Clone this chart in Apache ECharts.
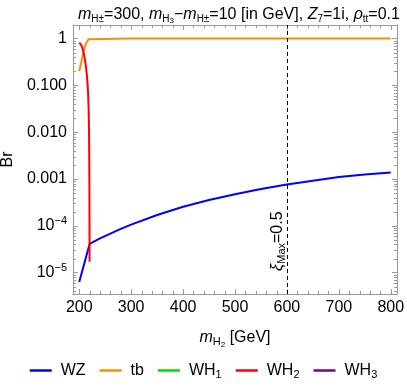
<!DOCTYPE html>
<html><head><meta charset="utf-8">
<script src="https://cdn.jsdelivr.net/npm/echarts@6/dist/echarts.min.js"></script>
<style>html,body{margin:0;padding:0;background:#fff}#c{width:407px;height:388px}</style>
</head><body><div id="c"></div>
<script>
const FONT = "'Liberation Sans', Arial, sans-serif";
const FRAME = '#999999';

// axis ranges and tick labels
const xMin = 188, xMax = 812;
const yMin = 3.5e-6, yMax = 1.94;
const xTickLabels = ['200', '300', '400', '500', '600', '700', '800'];
const yTickLabels = ['1', '0.100', '0.010', '0.001', '10^−4', '10^−5'];

// series data (m_H2 in GeV, branching ratio)
const wzMass = [200, 220, 240, 260, 280, 300, 350, 400, 450, 500, 550, 600, 650, 700, 750, 800];
const wzBr   = [6.3e-6, 4.1e-5, 5.4e-5, 6.8e-5, 8.6e-5, 1.06e-4, 1.7e-4, 2.55e-4, 3.55e-4, 4.7e-4, 6.1e-4, 7.6e-4, 9.2e-4, 1.1e-3, 1.25e-3, 1.38e-3];
const tbMass = [200, 202, 204, 206, 208, 210, 212, 214, 216, 218, 219, 220, 300, 400, 500, 600, 700, 800];
const tbBr   = [0.2, 0.25, 0.31, 0.4, 0.5, 0.61, 0.72, 0.82, 0.9, 0.96, 0.985, 0.998, 1.0, 1.0, 1.0, 1.0, 1.0, 1.0];
const wh1Mass = [];
const wh1Br   = [];
const wh2Mass = [200, 202, 204, 206, 208, 210, 212, 214, 216, 217, 218, 218.8, 219.3, 219.6, 219.8, 219.9];
const wh2Br   = [0.82, 0.78, 0.72, 0.63, 0.52, 0.41, 0.3, 0.2, 0.11, 0.07, 0.035, 0.012, 0.003, 6e-4, 1e-4, 1.7e-5];
const wh3Mass = [];
const wh3Br   = [];

const xiLineMass = 600;
const xiLabelBr = 4.7e-5;

const pairs = (xs, ys) => xs.map((x, i) => [x, ys[i]]);

// minor tick positions
const yMinor = [];
for (let k = -6; k <= 0; k++) for (let m = 2; m <= 9; m++) {
  const v = m * Math.pow(10, k);
  if (v > yMin && v < yMax) yMinor.push(v);
}
const xMinor = [];
for (let v = 200; v <= 800; v += 20) if (v % 100 !== 0) xMinor.push(v);
const minorData = yMinor.map(v => [xMin, v, 0]).concat(xMinor.map(v => [v, yMin, 1]));

function minorTick(params, api) {
  const cs = params.coordSys;
  const L = 3;
  const style = { stroke: FRAME, lineWidth: 1 };
  if (api.value(2) === 0) {
    const p = api.coord([xMin, api.value(1)]);
    const y = Math.round(p[1]) + 0.5;
    return { type: 'group', children: [
      { type: 'line', shape: { x1: cs.x, y1: y, x2: cs.x + L, y2: y }, style },
      { type: 'line', shape: { x1: cs.x + cs.width - L, y1: y, x2: cs.x + cs.width, y2: y }, style }
    ]};
  } else {
    const p = api.coord([api.value(0), yMin]);
    const x = Math.round(p[0]) + 0.5;
    return { type: 'group', children: [
      { type: 'line', shape: { x1: x, y1: cs.y + cs.height, x2: x, y2: cs.y + cs.height - L }, style },
      { type: 'line', shape: { x1: x, y1: cs.y, x2: x, y2: cs.y + L }, style }
    ]};
  }
}

function xiLabel(params, api) {
  const p = api.coord([api.value(0), api.value(1)]);
  return {
    type: 'text', x: p[0] - 9, y: p[1], rotation: Math.PI / 2,
    style: {
      text: '{g|ξ}{s|Max}{n|=0.5}',
      align: 'center', verticalAlign: 'middle',
      rich: {
        g: { fontFamily: FONT, fontSize: 16, fontStyle: 'italic', fill: '#000' },
        s: { fontFamily: FONT, fontSize: 11, fill: '#000', padding: [8, 0, 0, 0], lineHeight: 11 },
        n: { fontFamily: FONT, fontSize: 16, fill: '#000' }
      }
    }
  };
}

function yLabel(v) {
  const e = Math.round(Math.log10(v));
  const s = yTickLabels[-e];
  if (s === undefined) return '';
  if (s.indexOf('^') >= 0) {
    const parts = s.split('^');
    return '{b|' + parts[0] + '}{sup|' + parts[1] + '}';
  }
  return '{b|' + s + '}';
}

const baseRich = {
  b: { fontFamily: FONT, fontSize: 16, color: '#000' },
  sup: { fontFamily: FONT, fontSize: 11, color: '#000', padding: [0, 0, 10, 0], lineHeight: 11 }
};

const axisCommon = {
  axisLine: { show: true, lineStyle: { color: FRAME, width: 1 } },
  axisTick: { show: true, inside: true, length: 5, lineStyle: { color: FRAME } },
  splitLine: { show: false }
};

const lineSeries = (name, color, data) => ({
  name, type: 'line', data, showSymbol: false, symbol: 'none',
  itemStyle: { color }, lineStyle: { color, width: 2 },
  xAxisIndex: 0, yAxisIndex: 0, z: 3, animation: false
});

const chart = echarts.init(document.getElementById('c'), null, { renderer: 'canvas' });
const wz = lineSeries('WZ', '#0000ff', pairs(wzMass, wzBr));
wz.markLine = {
  silent: true, symbol: 'none', animation: false,
  label: { show: false },
  lineStyle: { color: '#000', type: [4, 3], width: 1 },
  data: [{ xAxis: xiLineMass }]
};

chart.setOption({
  animation: false,
  title: {
    text: '{i|m}{s|H±}{n|=300, }{i|m}{s|H}{ss|3}{n|−}{i|m}{s|H±}{n|=10 [in GeV], }{i|Z}{s|7}{n|=1i, }{i|ρ}{s|tt}{n|=0.1}',
    left: 73, top: 2,
    textStyle: {
      fontWeight: 'normal', fontFamily: FONT, fontSize: 16,
      rich: {
        i: { fontFamily: FONT, fontSize: 16, fontStyle: 'italic', fontWeight: 'normal', color: '#000' },
        n: { fontFamily: FONT, fontSize: 16, fontWeight: 'normal', color: '#000' },
        s: { fontFamily: FONT, fontSize: 10, fontWeight: 'normal', color: '#000', padding: [8, 0, 0, 0], lineHeight: 10 },
        ss: { fontFamily: FONT, fontSize: 8, fontWeight: 'normal', color: '#000', padding: [12, 0, 0, 0], lineHeight: 8 }
      }
    }
  },
  grid: { left: 73, right: 10, top: 25, bottom: 94, containLabel: false, outerBoundsMode: 'none' },
  legend: {
    data: ['WZ', 'tb', 'WH1', 'WH2', 'WH3'],
    left: 'center', top: 356,
    icon: 'rect', itemWidth: 22, itemHeight: 2.5, itemGap: 14,
    formatter: name => name.indexOf('WH') === 0 ? '{a|WH}{s|' + name.slice(2) + '}' : '{a|' + name + '}',
    textStyle: {
      padding: [0, 0, 0, 4],
      rich: {
        a: { fontFamily: FONT, fontSize: 16, color: '#000' },
        s: { fontFamily: FONT, fontSize: 11, color: '#000', padding: [8, 0, 0, 0], lineHeight: 11 }
      }
    }
  },
  xAxis: [
    Object.assign({
      type: 'value', min: xMin, max: xMax, position: 'bottom',
      name: '{i|m}{s|H}{ss|2}{n| [GeV]}', nameLocation: 'middle', nameGap: 36,
      nameTextStyle: {
        rich: {
          i: { fontFamily: FONT, fontSize: 16, fontStyle: 'italic', color: '#000' },
          n: { fontFamily: FONT, fontSize: 16, color: '#000' },
          s: { fontFamily: FONT, fontSize: 11, color: '#000', padding: [8, 0, 0, 0], lineHeight: 11 },
          ss: { fontFamily: FONT, fontSize: 8, color: '#000', padding: [13, 0, 0, 0], lineHeight: 8 }
        }
      },
      axisLabel: {
        show: true, margin: 6, showMinLabel: false, showMaxLabel: false, hideOverlap: false,
        fontFamily: FONT, fontSize: 16, color: '#000',
        formatter: v => xTickLabels.indexOf(String(v)) >= 0 ? String(v) : ''
      }
    }, axisCommon),
    Object.assign({
      type: 'value', min: xMin, max: xMax, position: 'top',
      axisLabel: { show: false }
    }, axisCommon)
  ],
  yAxis: [
    Object.assign({
      type: 'log', logBase: 10, min: yMin, max: yMax, position: 'left', splitNumber: 6,
      name: 'Br', nameLocation: 'middle', nameGap: 54, nameRotate: 90,
      nameTextStyle: { fontFamily: FONT, fontSize: 16, color: '#000' },
      axisLabel: {
        show: true, margin: 6, showMinLabel: false, showMaxLabel: false,
        formatter: yLabel, rich: baseRich
      }
    }, axisCommon),
    Object.assign({
      type: 'log', logBase: 10, min: yMin, max: yMax, position: 'right', splitNumber: 6,
      axisLabel: { show: false }
    }, axisCommon)
  ],
  series: [
    wz,
    lineSeries('tb', '#ff8c00', pairs(tbMass, tbBr)),
    lineSeries('WH1', '#00e000', pairs(wh1Mass, wh1Br)),
    lineSeries('WH2', '#ff0000', pairs(wh2Mass, wh2Br)),
    lineSeries('WH3', '#800080', pairs(wh3Mass, wh3Br)),
    {
      type: 'custom', name: 'minorTicks', coordinateSystem: 'cartesian2d',
      xAxisIndex: 0, yAxisIndex: 0, data: minorData, renderItem: minorTick,
      silent: true, animation: false, z: 1, clip: false
    },
    {
      type: 'custom', name: 'xiLabel', coordinateSystem: 'cartesian2d',
      xAxisIndex: 0, yAxisIndex: 0, data: [[xiLineMass, xiLabelBr]], renderItem: xiLabel,
      silent: true, animation: false, z: 4, clip: false
    }
  ]
});
</script></body></html>
